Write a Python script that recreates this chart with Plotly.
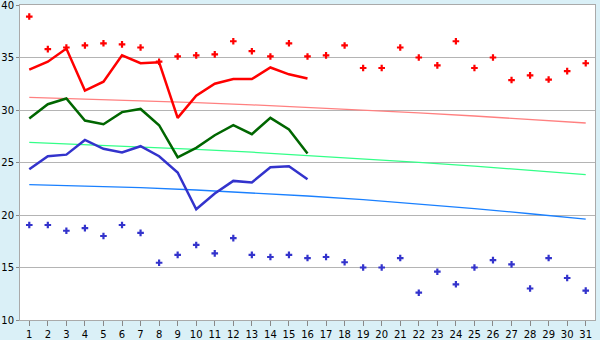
import plotly.graph_objects as go

days = list(range(1, 32))
max_dots = [38.9, 35.8, 35.95, 36.15, 36.35, 36.25, 35.95, 34.6, 35.1, 35.2,
            35.3, 36.55, 35.6, 35.1, 36.35, 35.1, 35.2, 36.15, 34.0, 34.0,
            35.95, 35.0, 34.25, 36.55, 34.0, 35.0, 32.85, 33.3, 32.9, 33.7, 34.45]
min_dots = [19.05, 19.05, 18.5, 18.75, 18.0, 19.05, 18.3, 15.45, 16.2, 17.15,
            16.35, 17.8, 16.2, 16.0, 16.2, 15.9, 16.0, 15.5, 15.0, 15.0,
            15.9, 12.6, 14.6, 13.4, 15.0, 15.7, 15.3, 13.0, 15.9, 14.0, 12.8]
days16 = list(range(1, 17))
red_line = [33.85, 34.6, 35.85, 31.85, 32.7, 35.2, 34.45, 34.55, 29.25, 31.35,
            32.5, 32.95, 32.95, 34.05, 33.4, 33.0]
green_line = [29.2, 30.55, 31.1, 29.0, 28.65, 29.8, 30.1, 28.55, 25.5, 26.4,
              27.6, 28.55, 27.7, 29.25, 28.15, 25.85]
blue_line = [24.35, 25.6, 25.75, 27.15, 26.3, 25.95, 26.55, 25.6, 24.05, 20.55,
             22.05, 23.25, 23.1, 24.55, 24.65, 23.4]
trend_x = [1, 4, 7, 10, 13, 16, 19, 22, 25, 28, 31]
trend_pink = [31.21, 31.06, 30.90, 30.71, 30.49, 30.26, 30.00, 29.73, 29.43, 29.10, 28.76]
trend_green = [26.92, 26.72, 26.50, 26.25, 25.98, 25.68, 25.36, 25.02, 24.65, 24.26, 23.85]
trend_blue = [22.90, 22.77, 22.60, 22.38, 22.12, 21.81, 21.46, 21.06, 20.61, 20.12, 19.61]
y_ticks = [10, 15, 20, 25, 30, 35, 40]

fig = go.Figure()
fig.add_trace(go.Scatter(x=trend_x, y=trend_pink, mode="lines", line=dict(color="#ff8080", width=1.3)))
fig.add_trace(go.Scatter(x=trend_x, y=trend_green, mode="lines", line=dict(color="#33ff88", width=1.3)))
fig.add_trace(go.Scatter(x=trend_x, y=trend_blue, mode="lines", line=dict(color="#1a80ff", width=1.3)))
fig.add_trace(go.Scatter(x=days16, y=red_line, mode="lines", line=dict(color="#ff0000", width=2.5)))
fig.add_trace(go.Scatter(x=days16, y=green_line, mode="lines", line=dict(color="#006600", width=2.5)))
fig.add_trace(go.Scatter(x=days16, y=blue_line, mode="lines", line=dict(color="#3333cc", width=2.5)))
fig.add_trace(go.Scatter(x=days, y=max_dots, mode="markers",
                         marker=dict(symbol="cross", size=5.5, color="#ff0000", line=dict(width=0))))
fig.add_trace(go.Scatter(x=days, y=min_dots, mode="markers",
                         marker=dict(symbol="cross", size=5.5, color="#3333cc", line=dict(width=0))))

fig.update_layout(
    width=600, height=340,
    margin=dict(l=20, r=5, t=5, b=20, autoexpand=False),
    paper_bgcolor="#daf0f7", plot_bgcolor="#ffffff",
    showlegend=False,
    font=dict(family="DejaVu Sans", size=10, color="#000000"),
)
fig.update_xaxes(range=[0.5, 31.5], tickmode="array", tickvals=days,
                 ticktext=[str(d) for d in days], showgrid=False, zeroline=False,
                 showline=True, linecolor="#aaaaaa", linewidth=1, mirror=True,
                 ticks="outside", ticklen=5, tickcolor="#888888",
                 tickfont=dict(size=10), automargin=False,
                 ticklabeloverflow="allow", ticklabelstandoff=0)
fig.update_yaxes(range=[10, 40], tickmode="array", tickvals=y_ticks,
                 ticktext=[str(v) for v in y_ticks],
                 showgrid=True, gridcolor="#b4b4b4", gridwidth=1, zeroline=False,
                 showline=True, linecolor="#aaaaaa", linewidth=1, mirror=True,
                 ticks="outside", ticklen=3, tickcolor="#888888",
                 tickfont=dict(size=10), automargin=False,
                 ticklabeloverflow="allow")

fig.write_html("out.html")
